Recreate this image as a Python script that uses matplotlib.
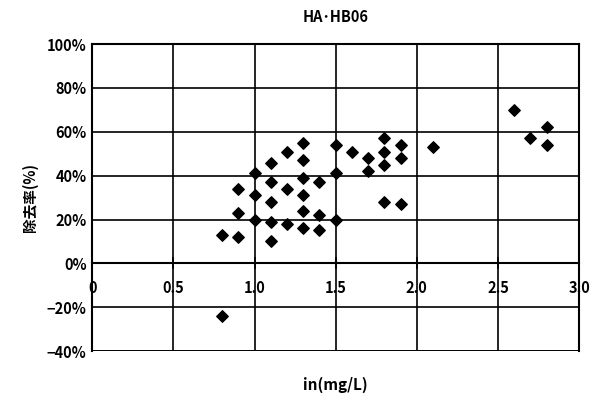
import matplotlib
matplotlib.use('Agg')
import matplotlib.pyplot as plt
from matplotlib.ticker import FuncFormatter

plt.rcParams['font.family'] = ['Noto Sans CJK JP', 'DejaVu Sans']

# 流入濃度 (mg/L) と除去率 (%)
conc_in = [0.8, 0.9, 0.9, 0.9, 1.0, 1.0, 1.0, 1.1, 1.1, 1.1, 1.1, 1.1,
           1.2, 1.2, 1.2, 1.3, 1.3, 1.3, 1.3, 1.3, 1.3, 1.4, 1.4, 1.4,
           1.5, 1.5, 1.5, 1.6, 1.7, 1.7, 1.8, 1.8, 1.8, 1.8, 1.9, 1.9, 1.9,
           2.1, 2.6, 2.7, 2.8, 2.8, 0.8]
removal = [13, 12, 23, 34, 41, 31, 20, 46, 37, 28, 19, 10,
           51, 34, 18, 55, 47, 39, 31, 24, 16, 37, 22, 15,
           54, 41, 20, 51, 48, 42, 57, 51, 45, 28, 54, 48, 27,
           53, 70, 57, 62, 54, -24]

x_ticks = [0, 0.5, 1.0, 1.5, 2.0, 2.5, 3.0]
x_labels = ['0', '0.5', '1.0', '1.5', '2.0', '2.5', '3.0']
y_ticks = [-40, -20, 0, 20, 40, 60, 80, 100]

fig = plt.figure(figsize=(5.91, 3.94), dpi=100)
ax = fig.add_axes([0.156, 0.109, 0.824, 0.779])

ax.scatter(conc_in, removal, marker='D', s=34, color='black', zorder=3)

ax.set_xlim(0, 3.0)
ax.set_ylim(-40, 100)
ax.set_xticks(x_ticks)
ax.set_xticklabels(x_labels)
ax.set_yticks(y_ticks)
ax.yaxis.set_major_formatter(FuncFormatter(lambda v, p: f'{v:.0f}%'.replace('-', '\u2212')))

ax.grid(True, color='black', linewidth=1.2)
ax.spines['bottom'].set_position(('data', 0))
ax.axhline(-40, color='black', linewidth=2)
for s in ['top', 'right', 'left']:
    ax.spines[s].set_linewidth(1.5)
ax.spines['bottom'].set_linewidth(1.5)

ax.tick_params(axis='x', direction='inout', length=8, width=1.2, pad=8, labelsize=10.5)
ax.tick_params(axis='y', length=0, pad=4, labelsize=10.5)
for lab in ax.get_xticklabels() + ax.get_yticklabels():
    lab.set_fontweight('bold')

ax.set_title('HA･HB06', fontsize=10.5, fontweight='bold', pad=16)
ax.set_ylabel('除去率(%)', fontsize=10.5, fontweight='bold', labelpad=6)
fig.text(0.567, 0.01, 'in(mg/L)', ha='center', fontsize=11, fontweight='bold')

fig.savefig('out.png', dpi=100)
